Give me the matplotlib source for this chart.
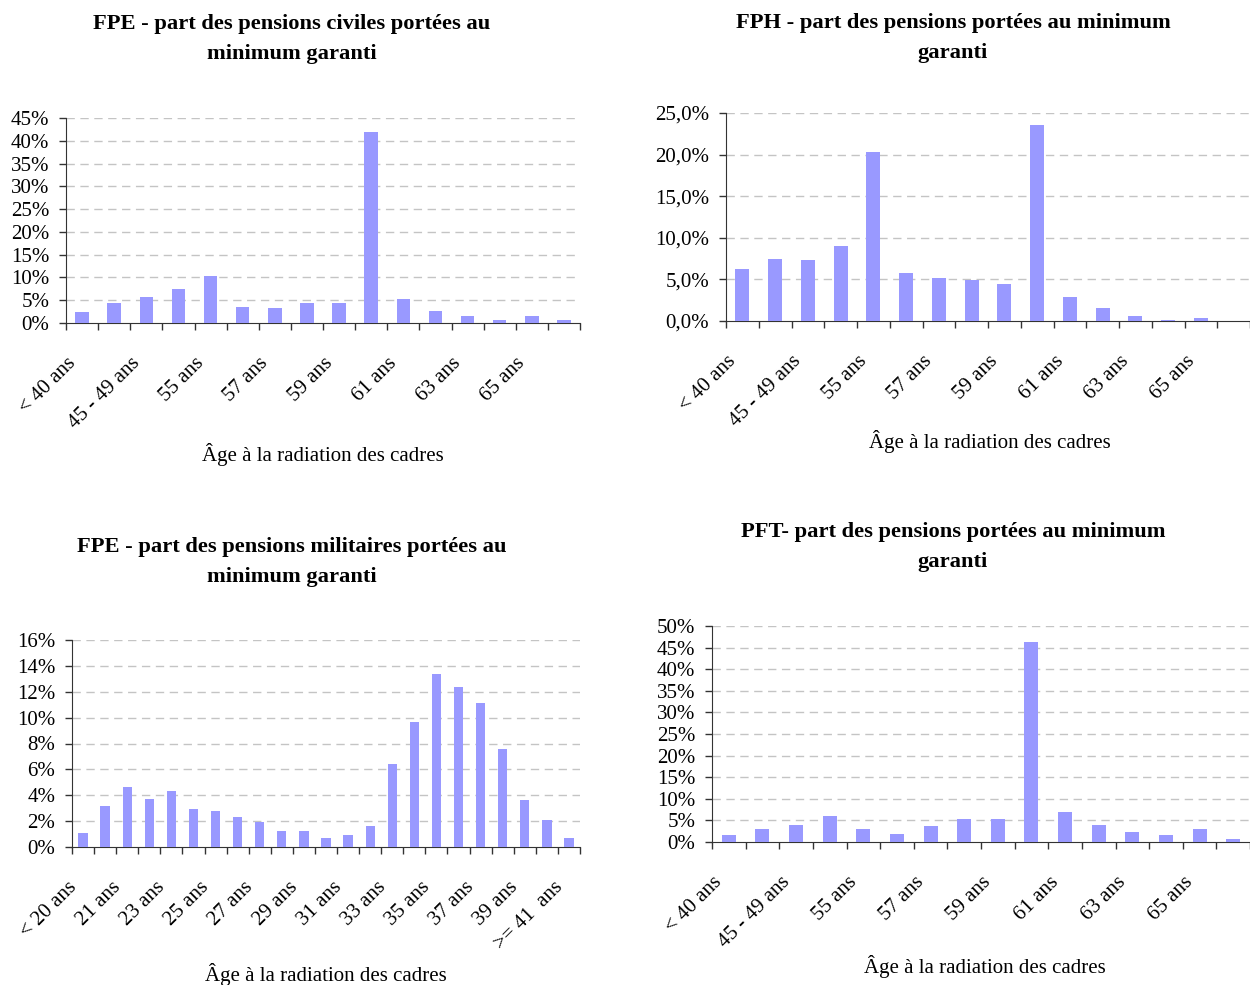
import matplotlib
matplotlib.use("Agg")
import matplotlib.pyplot as plt
from matplotlib.ticker import FuncFormatter
from matplotlib.transforms import ScaledTranslation

plt.rcParams['font.family'] = ['Liberation Serif', 'DejaVu Serif']

# categories
ages_civ = ["< 40 ans", "40 - 44 ans", "45 - 49 ans", "50 - 54 ans", "55 ans", "56 ans",
            "57 ans", "58 ans", "59 ans", "60 ans", "61 ans", "62 ans", "63 ans",
            "64 ans", "65 ans", "> 65 ans"]
ages_mil = ["< 20 ans"] + [f"{a} ans" for a in range(20, 41)] + [">= 41  ans"]

# values (%)
fpe_civ = [2.4, 4.3, 5.8, 7.4, 10.3, 3.6, 3.2, 4.3, 4.3, 41.9, 5.2, 2.7, 1.6, 0.7, 1.6, 0.7]
fph = [6.3, 7.5, 7.3, 9.0, 20.3, 5.8, 5.2, 4.9, 4.4, 23.5, 2.9, 1.6, 0.65, 0.15, 0.4, 0.0]
fpe_mil = [1.1, 3.2, 4.6, 3.7, 4.3, 2.9, 2.8, 2.3, 1.95, 1.25, 1.25, 0.7, 0.95, 1.65,
           6.4, 9.7, 13.4, 12.4, 11.1, 7.55, 3.6, 2.1, 0.7]
pft = [1.7, 2.9, 4.0, 6.1, 2.9, 1.9, 3.8, 5.4, 5.4, 46.2, 7.0, 4.0, 2.4, 1.7, 2.9, 0.8]

BAR = '#9999FF'
W, H = 1250, 985


def px_axes(fig, x0, x1, ytop, ybot):
    return fig.add_axes([x0 / W, 1 - ybot / H, (x1 - x0) / W, (ybot - ytop) / H])


def draw(fig, box, cats, vals, ymax, ystep, fmt, title, title_xy, xlabel_xy, width=0.42):
    ax = px_axes(fig, *box)
    n = len(cats)
    centers = [i + 0.5 for i in range(n)]
    ax.bar(centers, vals, width=width, color=BAR, zorder=3)
    ax.set_xlim(0, n)
    ax.set_ylim(0, ymax)
    yt = [k * ystep for k in range(int(round(ymax / ystep)) + 1)]
    ax.set_yticks(yt)
    ax.yaxis.set_major_formatter(FuncFormatter(fmt))
    for y in yt[1:]:
        ax.axhline(y, color='#C4C4C4', lw=1, ls=(0, (6, 4)), zorder=1)
    ax.set_xticks(range(n + 1))
    ax.set_xticklabels([])
    ax.set_xticks(centers[::2], cats[::2], minor=True)
    ax.tick_params(axis='x', which='minor', length=0, pad=22)
    ax.tick_params(axis='x', which='major', length=5, width=1, color='#333333')
    ax.tick_params(axis='y', length=5, width=1, color='#333333', labelsize=15, pad=7)
    shift = ScaledTranslation(-16 / 100, 0, fig.dpi_scale_trans)
    for lab in ax.get_xticklabels(minor=True):
        lab.set_rotation(45)
        lab.set_ha('right')
        lab.set_rotation_mode('anchor')
        lab.set_fontsize(15)
        lab.set_transform(lab.get_transform() + shift)
    for s in ['top', 'right']:
        ax.spines[s].set_visible(False)
    for s in ['left', 'bottom']:
        ax.spines[s].set_color('#333333')
    fig.text(title_xy[0] / W, 1 - title_xy[1] / H, title, ha='center', va='top',
             fontsize=16.2, fontweight='bold', linespacing=1.65)
    fig.text(xlabel_xy[0] / W, 1 - xlabel_xy[1] / H, "Âge à la radiation des cadres",
             ha='center', va='center', fontsize=15)
    return ax


pct0 = lambda v, p: f"{v:.0f}%"
pct1 = lambda v, p: f"{v:.1f}%".replace('.', ',')

fig = plt.figure(figsize=(W / 100, H / 100), dpi=100)

draw(fig, (66, 580, 118, 323), ages_civ, fpe_civ, 45, 5, pct0,
     "FPE - part des pensions civiles portées au\nminimum garanti", (292, 14), (323, 454))
draw(fig, (726, 1250, 113, 321), ages_civ, fph, 25, 5, pct1,
     "FPH - part des pensions portées au minimum\ngaranti", (953, 13), (990, 441))
draw(fig, (72, 580, 640, 847), ages_mil, fpe_mil, 16, 2, pct0,
     "FPE - part des pensions militaires portées au\nminimum garanti", (292, 537), (326, 974))
draw(fig, (712, 1250, 626, 842), ages_civ, pft, 50, 5, pct0,
     "PFT- part des pensions portées au minimum\ngaranti", (953, 522), (985, 966))

fig.savefig("out.png", dpi=100)
